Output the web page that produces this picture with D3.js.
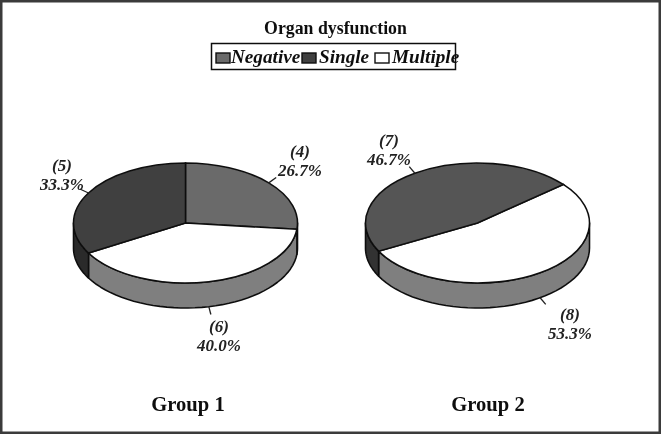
<!DOCTYPE html>
<html>
<head>
<meta charset="utf-8">
<script src="https://cdn.jsdelivr.net/npm/d3@7.9.0/dist/d3.min.js"></script>
<style>
  html, body { margin: 0; padding: 0; background: #fff; }
  svg { display: block; font-family: "Liberation Serif", serif; }
</style>
</head>
<body>
<svg id="chart" width="661" height="434"></svg>
<script>
const categories = ["Negative", "Single", "Multiple"];
// drawn clockwise in this order
const sliceOrder = ["Negative", "Multiple", "Single"];
const group1Counts = [4, 5, 6];
const group1Percents = ["26.7%", "33.3%", "40.0%"];
const group2Counts = [0, 7, 8];
const group2Percents = ["0.0%", "46.7%", "53.3%"];
const groupNames = ["Group 1", "Group 2"];

const width = 661;
const height = 434;
const rx = 112;
const ry = 60;
const depth = 25;

const svg = d3.select("#chart");

const defs = svg.append("defs");
defs.append("filter")
  .attr("id", "soft")
  .append("feGaussianBlur")
  .attr("stdDeviation", 0.5);

const root = svg.append("g").attr("filter", "url(#soft)");

root.append("rect")
  .attr("x", 1).attr("y", 1)
  .attr("width", width - 2).attr("height", height - 2)
  .attr("fill", "#fff")
  .attr("stroke", "#3a3a3a")
  .attr("stroke-width", 3);

root.append("text")
  .attr("x", 335.5).attr("y", 34)
  .attr("text-anchor", "middle")
  .attr("font-size", 17.8)
  .attr("font-weight", "bold")
  .attr("fill", "#111")
  .text("Organ dysfunction");

// legend
root.append("rect")
  .attr("x", 211.5).attr("y", 43.5)
  .attr("width", 244).attr("height", 26)
  .attr("fill", "none")
  .attr("stroke", "#111")
  .attr("stroke-width", 1.5);

const legendFill = { Negative: "#6a6a6a", Single: "#404040", Multiple: "#fff" };
const legendSwatchX = d3.scaleOrdinal().domain(categories).range([216, 302, 375]);
const legendTextX = d3.scaleOrdinal().domain(categories).range([231, 319, 392]);

const legendItems = root.selectAll(".legend-item")
  .data(categories)
  .join("g")
  .attr("class", "legend-item");

legendItems.append("rect")
  .attr("x", (d) => legendSwatchX(d))
  .attr("y", 53)
  .attr("width", 14)
  .attr("height", 10)
  .attr("fill", (d) => legendFill[d])
  .attr("stroke", "#111")
  .attr("stroke-width", 1.4);

legendItems.append("text")
  .attr("x", (d) => legendTextX(d))
  .attr("y", 63)
  .attr("font-size", 19.2)
  .attr("font-weight", "bold")
  .attr("font-style", "italic")
  .attr("fill", "#111")
  .text((d) => d);

const groups = [
  {
    name: groupNames[0], counts: group1Counts, percents: group1Percents,
    cx: 185.5, cy: 223, start: 0,
    top: { Negative: "#6a6a6a", Single: "#404040", Multiple: "#fff" },
    side: { Negative: "#555", Single: "#2a2a2a", Multiple: "#7f7f7f" },
    labels: {
      Negative: { x: 300, y1: 157, y2: 176 },
      Single: { x: 62, y1: 171, y2: 190 },
      Multiple: { x: 219, y1: 332, y2: 351 },
    },
    titleX: 188,
  },
  {
    name: groupNames[1], counts: group2Counts, percents: group2Percents,
    cx: 477.5, cy: 223, start: 50,
    top: { Negative: "#6a6a6a", Single: "#555", Multiple: "#fff" },
    side: { Negative: "#555", Single: "#333", Multiple: "#7f7f7f" },
    labels: {
      Single: { x: 389, y1: 146, y2: 165 },
      Multiple: { x: 570, y1: 320, y2: 339 },
    },
    titleX: 488,
  },
];

const rad = Math.PI / 180;
// point on the rim of the ellipse, angle clockwise from 12 o'clock
const rimX = (a) => rx * Math.sin(a);
const rimY = (a) => -ry * Math.cos(a);

groups.forEach((group) => {
  const rows = sliceOrder.map((cat) => {
    const i = categories.indexOf(cat);
    return { cat, value: group.counts[i], percent: group.percents[i] };
  }).filter((d) => d.value > 0);

  const start = group.start * rad;
  const arcs = d3.pie()
    .sort(null)
    .startAngle(start)
    .endAngle(start + 2 * Math.PI)
    .value((d) => d.value)(rows);

  const g = root.append("g").attr("transform", `translate(${group.cx},${group.cy})`);

  // side wall: only the front half of the rim is visible
  const wallLine = d3.line().x((d) => d[0]).y((d) => d[1]);
  arcs.forEach((a) => {
    [0, 2 * Math.PI].forEach((turn) => {
      const from = Math.max(a.startAngle - turn, Math.PI / 2);
      const to = Math.min(a.endAngle - turn, 1.5 * Math.PI);
      if (to <= from) return;
      const steps = d3.range(0, 41).map((k) => from + (to - from) * k / 40);
      const outline = steps.map((t) => [rimX(t), rimY(t)])
        .concat(steps.slice().reverse().map((t) => [rimX(t), rimY(t) + depth]));
      g.append("path")
        .attr("d", wallLine(outline) + "Z")
        .attr("fill", group.side[a.data.cat])
        .attr("stroke", "#111")
        .attr("stroke-width", 1.6)
        .attr("stroke-linejoin", "round");
    });
  });

  // top face: circular arcs squashed into an ellipse
  const arc = d3.arc().innerRadius(0).outerRadius(rx);
  g.append("g")
    .attr("transform", `scale(1,${ry / rx})`)
    .selectAll("path")
    .data(arcs)
    .join("path")
    .attr("d", arc)
    .attr("fill", (d) => group.top[d.data.cat])
    .attr("stroke", "#111")
    .attr("stroke-width", 1.6)
    .attr("vector-effect", "non-scaling-stroke");

  // leader lines and labels
  arcs.forEach((a) => {
    const mid = (a.startAngle + a.endAngle) / 2;
    const front = Math.cos(mid) < 0;
    const x0 = rimX(mid);
    const y0 = rimY(mid) + (front ? depth : 0);
    g.append("line")
      .attr("x1", x0).attr("y1", y0)
      .attr("x2", x0 + Math.sin(mid) * 10)
      .attr("y2", y0 - Math.cos(mid) * 8)
      .attr("stroke", "#222")
      .attr("stroke-width", 1.3);

    const pos = group.labels[a.data.cat];
    root.append("text")
      .attr("x", pos.x).attr("y", pos.y1)
      .attr("text-anchor", "middle")
      .attr("font-size", 17)
      .attr("font-weight", "bold")
      .attr("font-style", "italic")
      .attr("fill", "#222")
      .text(`(${a.data.value})`);
    root.append("text")
      .attr("x", pos.x).attr("y", pos.y2)
      .attr("text-anchor", "middle")
      .attr("font-size", 17)
      .attr("font-style", "italic")
      .attr("font-weight", "bold")
      .attr("fill", "#222")
      .text(a.data.percent);
  });

  root.append("text")
    .attr("x", group.titleX).attr("y", 411)
    .attr("text-anchor", "middle")
    .attr("font-size", 20.6)
    .attr("font-weight", "bold")
    .attr("fill", "#111")
    .text(group.name);
});
</script>
</body>
</html>
